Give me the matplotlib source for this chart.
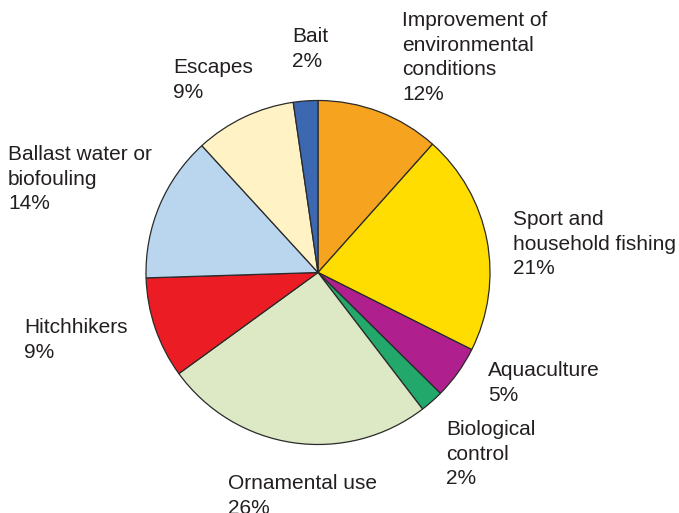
import matplotlib
matplotlib.use("Agg")
import matplotlib.pyplot as plt

## Données (sens horaire depuis le haut)
categories = ["Improvement of\nenvironmental\nconditions", "Sport and\nhousehold fishing",
              "Aquaculture", "Biological\ncontrol", "Ornamental use", "Hitchhikers",
              "Ballast water or\nbiofouling", "Escapes", "Bait"]
## pourcentages affichés
labels_pct = [12, 21, 5, 2, 26, 9, 14, 9, 2]
## tailles des secteurs
shares = [11.6, 20.8, 5.0, 2.2, 25.4, 9.5, 13.7, 9.5, 2.3]
colors = ["#F6A41F", "#FFDD00", "#B01F8E", "#22A86A", "#DCE9C4",
          "#EC1C24", "#B9D6EE", "#FFF3C6", "#3C67B1"]

## Position des étiquettes (pixels, gauche / haut)
label_pos = [(402, 11), (513, 210), (488, 361), (446, 420), (228, 474),
             (24, 318), (8, 145), (173, 58), (292, 27)]

W, H = 679, 513
fig = plt.figure(figsize=(W / 100, H / 100), dpi=100)
ax = fig.add_axes([0, 0, 1, 1])

ax.pie(shares, colors=colors, startangle=90, counterclock=False,
       center=(318, H - 272.5), radius=172,
       wedgeprops=dict(edgecolor="#2a2a2a", linewidth=0.9))

for cat, val, (x, y) in zip(categories, labels_pct, label_pos):
    ax.text(x, H - y, "%s\n%d%%" % (cat, val), ha="left", va="top",
            fontsize=15, family="Liberation Sans", color="#231F20",
            linespacing=1.37)

ax.set_xlim(0, W)
ax.set_ylim(0, H)
ax.set_aspect("equal")
ax.axis("off")

plt.savefig("out.png", dpi=100)
